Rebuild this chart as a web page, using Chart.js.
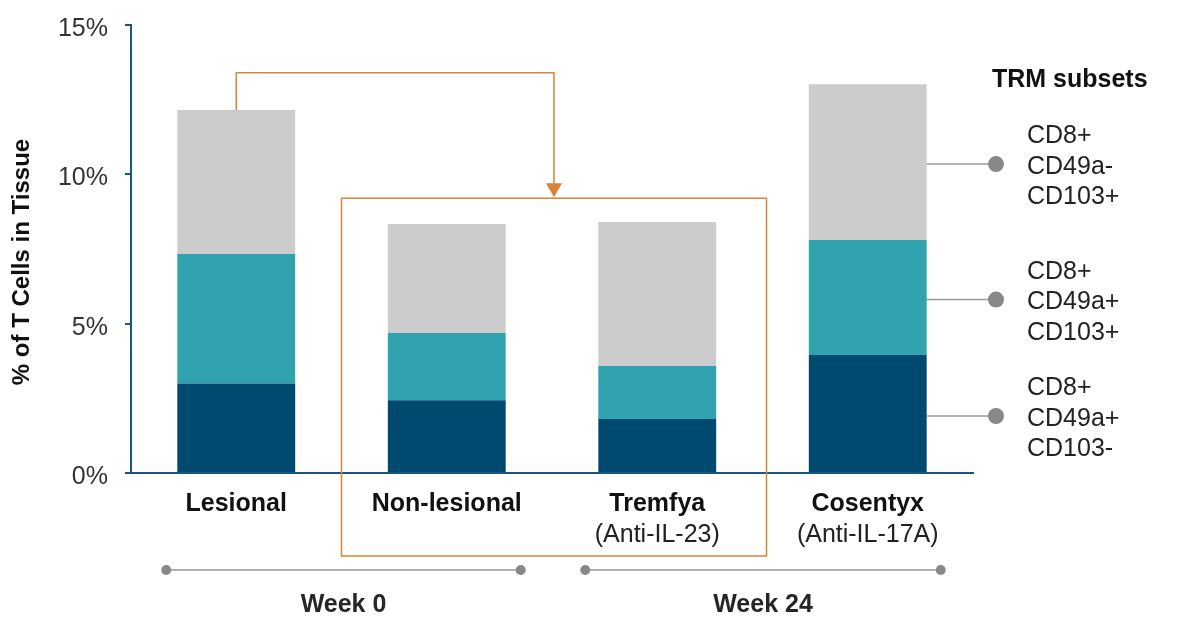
<!DOCTYPE html>
<html>
<head>
<meta charset="utf-8">
<script src="https://cdn.jsdelivr.net/npm/chart.js@4"></script>
<style>
  body { margin: 0; background: #fff; }
</style>
</head>
<body>
<canvas id="graph" width="1179" height="620"></canvas>
<script>
const categories = ['Lesional', 'Non-lesional', 'Tremfya', 'Cosentyx'];
const subLabels = ['', '', '(Anti-IL-23)', '(Anti-IL-17A)'];
const cd103neg = [3.0, 2.44, 1.81, 3.95];   // CD8+ CD49a+ CD103-
const dblPos = [4.33, 2.25, 1.77, 3.85];    // CD8+ CD49a+ CD103+
const cd49neg = [4.82, 3.65, 4.82, 5.22];   // CD8+ CD49a- CD103+
const legendLabels = [
    ['CD8+', 'CD49a-', 'CD103+'],
    ['CD8+', 'CD49a+', 'CD103+'],
    ['CD8+', 'CD49a+', 'CD103-']
];
const weeks = ['Week 0', 'Week 24'];

const FONT = '"Liberation Sans", Arial, sans-serif';
const AXIS = '#19577A';
const ORANGE = '#D8823A';

const extras = {
    id: 'extras',
    afterDraw(chart) {
        const ctx = chart.ctx;
        const x = chart.scales.x, y = chart.scales.y;
        const ca = chart.chartArea;
        const cx = i => x.getPixelForValue(i);
        ctx.save();

        // axis title
        ctx.save();
        ctx.translate(22, (ca.top + ca.bottom) / 2 + 13);
        ctx.rotate(-Math.PI / 2);
        ctx.font = 'bold 24px ' + FONT;
        ctx.fillStyle = '#111';
        ctx.textAlign = 'center';
        ctx.textBaseline = 'middle';
        ctx.fillText('% of T Cells in Tissue', 0, 0);
        ctx.restore();

        // category labels
        ctx.textAlign = 'center';
        ctx.textBaseline = 'middle';
        categories.forEach((c, i) => {
            ctx.font = 'bold 25px ' + FONT;
            ctx.fillStyle = '#111';
            ctx.fillText(c, cx(i), ca.bottom + 31);
            if (subLabels[i]) {
                ctx.font = '25px ' + FONT;
                ctx.fillStyle = '#222';
                ctx.fillText(subLabels[i], cx(i), ca.bottom + 62);
            }
        });

        // orange bracket with arrow
        const totals = categories.map((_, i) => cd103neg[i] + dblPos[i] + cd49neg[i]);
        const topY = y.getPixelForValue(13.4);
        const arrowX = (cx(1) + cx(2)) / 2 + 2;
        const boxLeft = (cx(0) + cx(1)) / 2;
        const boxRight = cx(2) + (cx(2) - cx(1)) / 2 + 4;
        const boxTop = y.getPixelForValue(9.2);
        const boxBottom = ca.bottom + 83;
        ctx.strokeStyle = ORANGE;
        ctx.lineWidth = 1.5;
        ctx.beginPath();
        ctx.moveTo(cx(0), y.getPixelForValue(totals[0]));
        ctx.lineTo(cx(0), topY);
        ctx.lineTo(arrowX, topY);
        ctx.lineTo(arrowX, boxTop - 14);
        ctx.stroke();
        ctx.fillStyle = ORANGE;
        ctx.beginPath();
        ctx.moveTo(arrowX - 8, boxTop - 15);
        ctx.lineTo(arrowX + 8, boxTop - 15);
        ctx.lineTo(arrowX, boxTop - 1);
        ctx.closePath();
        ctx.fill();
        ctx.strokeRect(boxLeft, boxTop, boxRight - boxLeft, boxBottom - boxTop);

        // legend callouts from last bar
        const last = categories.length - 1;
        const meta = chart.getDatasetMeta(0).data[last];
        const barRight = meta.x + meta.width / 2;
        const dotX = 996;
        const segs = [
            [cd103neg[last] + dblPos[last], totals[last]],
            [cd103neg[last], cd103neg[last] + dblPos[last]],
            [0, cd103neg[last]]
        ];
        ctx.font = 'bold 25px ' + FONT;
        ctx.fillStyle = '#111';
        ctx.textAlign = 'left';
        ctx.fillText('TRM subsets', 992, 80);
        segs.forEach((s, k) => {
            const ly = (y.getPixelForValue(s[0]) + y.getPixelForValue(s[1])) / 2 + 2;
            ctx.strokeStyle = '#999';
            ctx.lineWidth = 1.5;
            ctx.beginPath();
            ctx.moveTo(barRight, ly);
            ctx.lineTo(dotX, ly);
            ctx.stroke();
            ctx.fillStyle = '#888';
            ctx.beginPath();
            ctx.arc(dotX, ly, 8, 0, Math.PI * 2);
            ctx.fill();
            ctx.font = '25px ' + FONT;
            ctx.fillStyle = '#222';
            legendLabels[k].forEach((t, j) => {
                ctx.fillText(t, 1027, ly + 3 + (j - 1) * 30.5);
            });
        });

        // week timelines
        const wy = ca.bottom + 97;
        const spans = [[cx(0) - 70, cx(1) + 74], [cx(2) - 72, cx(3) + 73]];
        spans.forEach((sp, k) => {
            ctx.strokeStyle = '#999';
            ctx.lineWidth = 1.5;
            ctx.beginPath();
            ctx.moveTo(sp[0], wy);
            ctx.lineTo(sp[1], wy);
            ctx.stroke();
            ctx.fillStyle = '#888';
            sp.forEach(px => {
                ctx.beginPath();
                ctx.arc(px, wy, 5, 0, Math.PI * 2);
                ctx.fill();
            });
            ctx.font = 'bold 25px ' + FONT;
            ctx.fillStyle = '#262626';
            ctx.textAlign = 'center';
            ctx.fillText(weeks[k], (sp[0] + sp[1]) / 2, wy + 35);
        });

        ctx.restore();
    }
};

const graph = document.querySelector('#graph');
new Chart(graph, {
    type: 'bar',
    data: {
        labels: categories,
        datasets: [
            { label: 'CD8+ CD49a+ CD103-', data: cd103neg, backgroundColor: '#004A70' },
            { label: 'CD8+ CD49a+ CD103+', data: dblPos, backgroundColor: '#31A3B0' },
            { label: 'CD8+ CD49a- CD103+', data: cd49neg, backgroundColor: '#CCCCCC' }
        ]
    },
    options: {
        responsive: false,
        animation: false,
        barPercentage: 0.56,
        categoryPercentage: 1,
        layout: { padding: { top: 25, right: 206, left: 0, bottom: 0 } },
        plugins: { legend: { display: false }, tooltip: { enabled: false } },
        scales: {
            x: {
                stacked: true,
                ticks: { display: false },
                grid: { display: false },
                border: { color: AXIS, width: 2 },
                afterFit(scale) { scale.height = 147; }
            },
            y: {
                stacked: true,
                min: 0,
                max: 15,
                ticks: {
                    stepSize: 5,
                    padding: 17,
                    labelOffset: 4,
                    color: '#333',
                    font: { size: 25, family: FONT, lineHeight: 0.6 },
                    callback: v => v + '%'
                },
                grid: { drawOnChartArea: false, drawTicks: true, tickLength: 6, color: AXIS, lineWidth: 2 },
                border: { color: AXIS, width: 2 },
                afterFit(scale) { scale.width = 131; }
            }
        }
    },
    plugins: [extras]
});
</script>
</body>
</html>
